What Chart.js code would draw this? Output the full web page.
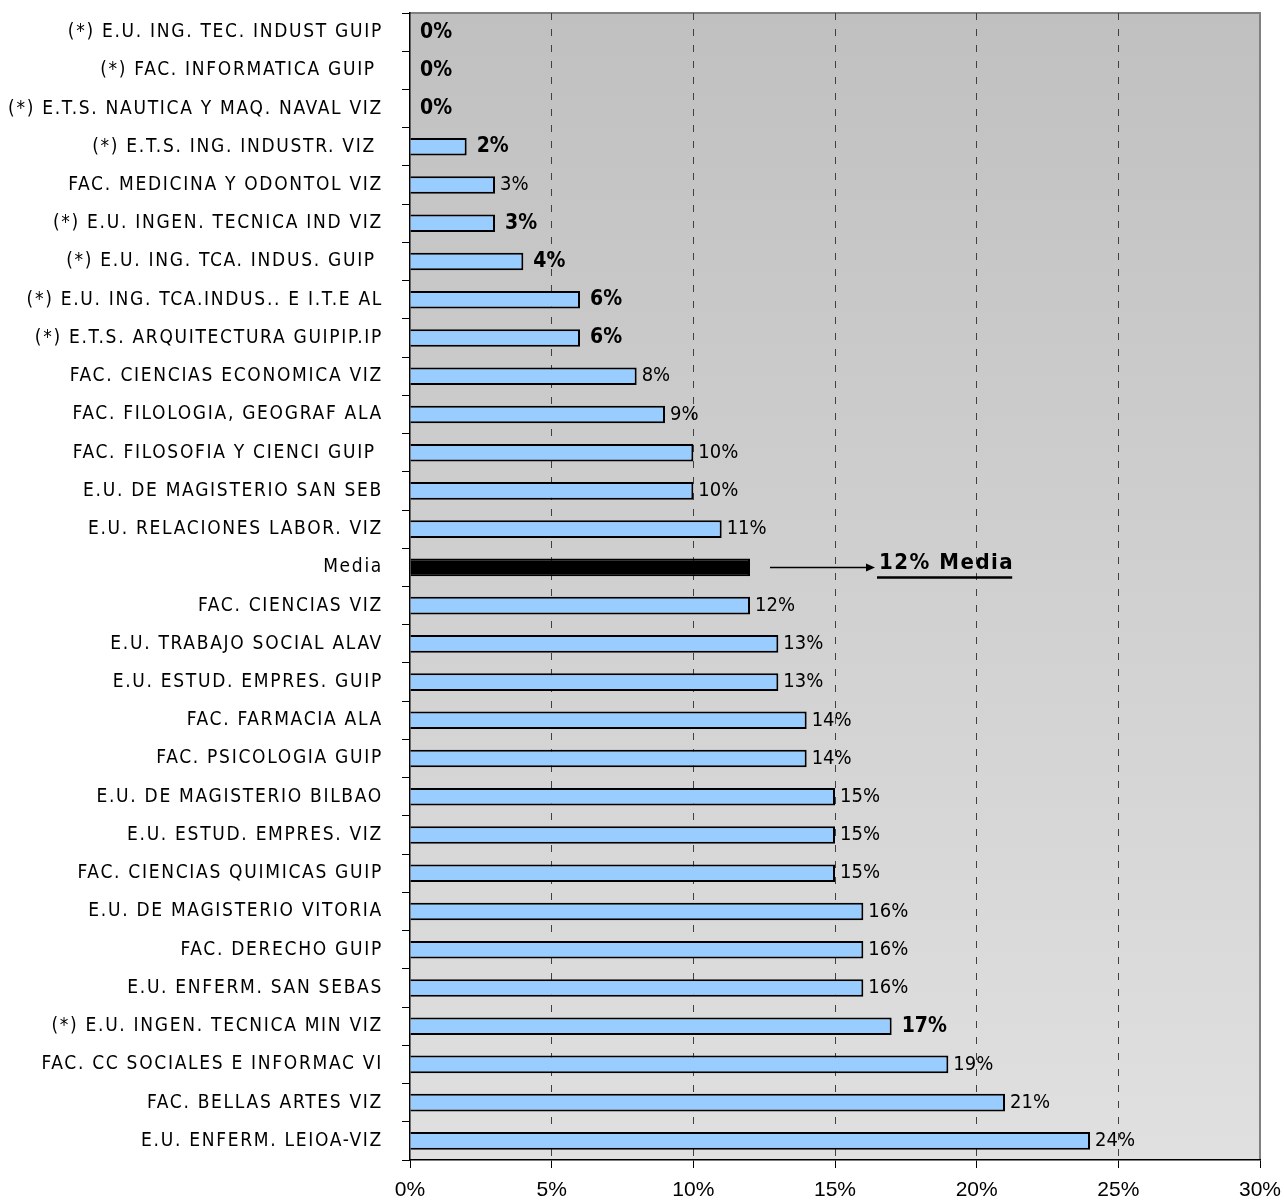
<!DOCTYPE html>
<html>
<head>
<meta charset="utf-8">
<script src="https://cdn.jsdelivr.net/npm/chart.js"></script>
<style>
  html, body { margin: 0; padding: 0; background: #ffffff; }
  #wrap { width: 1284px; height: 1201px; }
</style>
</head>
<body>
<div id="wrap"><canvas id="chart" width="1284" height="1201"></canvas></div>
<script>
// -----------------------------
// Data
// -----------------------------
const categories = [
    "(*) E.U. ING. TEC. INDUST GUIP",
    "(*) FAC. INFORMATICA GUIP ",
    "(*) E.T.S. NAUTICA Y MAQ. NAVAL VIZ",
    "(*) E.T.S. ING. INDUSTR. VIZ ",
    "FAC. MEDICINA Y ODONTOL VIZ",
    "(*) E.U. INGEN. TECNICA IND VIZ",
    "(*) E.U. ING. TCA. INDUS. GUIP ",
    "(*) E.U. ING. TCA.INDUS.. E I.T.E AL",
    "(*) E.T.S. ARQUITECTURA GUIPIP.IP",
    "FAC. CIENCIAS ECONOMICA VIZ",
    "FAC. FILOLOGIA, GEOGRAF ALA",
    "FAC. FILOSOFIA Y CIENCI GUIP ",
    "E.U. DE MAGISTERIO SAN SEB",
    "E.U. RELACIONES LABOR. VIZ",
    "Media",
    "FAC. CIENCIAS VIZ",
    "E.U. TRABAJO SOCIAL ALAV",
    "E.U. ESTUD. EMPRES. GUIP",
    "FAC. FARMACIA ALA",
    "FAC. PSICOLOGIA GUIP",
    "E.U. DE MAGISTERIO BILBAO",
    "E.U. ESTUD. EMPRES. VIZ",
    "FAC. CIENCIAS QUIMICAS GUIP",
    "E.U. DE MAGISTERIO VITORIA",
    "FAC. DERECHO GUIP",
    "E.U. ENFERM. SAN SEBAS",
    "(*) E.U. INGEN. TECNICA MIN VIZ",
    "FAC. CC SOCIALES E INFORMAC VI",
    "FAC. BELLAS ARTES VIZ",
    "E.U. ENFERM. LEIOA-VIZ"
];

const values = [
    0, 0, 0, 2, 3, 3, 4, 6, 6, 8,
    9, 10, 10, 11, 12, 12, 13, 13, 14, 14,
    15, 15, 15, 16, 16, 16, 17, 19, 21, 24
];

const xTicks = [0, 5, 10, 15, 20, 25, 30];

const FONT = "'DejaVu Sans Condensed', 'DejaVu Sans', sans-serif";
const isMedia = (i) => categories[i] === "Media";
const isStar = (i) => categories[i].indexOf("(*)") === 0;

// -----------------------------
// Plot background + frame (and letter spacing for the category labels)
// -----------------------------
const plotBg = {
    id: "plotBg",
    beforeDraw(chart) {
        const { ctx, chartArea: a } = chart;
        const g = ctx.createLinearGradient(0, a.top, 0, a.bottom);
        g.addColorStop(0, "#c0c0c0");
        g.addColorStop(1, "#e0e0e0");
        ctx.save();
        ctx.fillStyle = g;
        ctx.fillRect(a.left, a.top, a.right - a.left, a.bottom - a.top);
        ctx.strokeStyle = "#808080";
        ctx.lineWidth = 2;
        ctx.beginPath();
        ctx.moveTo(a.left, a.top);
        ctx.lineTo(a.right, a.top);
        ctx.lineTo(a.right, a.bottom);
        ctx.stroke();
        ctx.restore();
        ctx.letterSpacing = "1.7px";
    },
    beforeDatasetsDraw(chart) {
        chart.ctx.letterSpacing = "0px";
    }
};

// -----------------------------
// Value labels + Media arrow
// -----------------------------
const valueLabels = {
    id: "valueLabels",
    afterDatasetsDraw(chart) {
        const ctx = chart.ctx;
        const meta = chart.getDatasetMeta(0);
        ctx.save();
        ctx.fillStyle = "#000";
        ctx.textBaseline = "middle";
        ctx.textAlign = "left";
        meta.data.forEach((bar, i) => {
            if (isMedia(i)) return;
            if (isStar(i)) {
                ctx.font = "bold 21px " + FONT;
                ctx.fillText(values[i] + "%", bar.x + 10, bar.y);
            } else {
                ctx.font = "20px " + FONT;
                ctx.fillText(values[i] + "%", bar.x + 5, bar.y);
            }
        });

        const mi = categories.indexOf("Media");
        const mb = meta.data[mi];
        const x0 = mb.x + 20, x1 = mb.x + 125, y = mb.y;
        ctx.strokeStyle = "#000";
        ctx.lineWidth = 1.5;
        ctx.beginPath();
        ctx.moveTo(x0, y);
        ctx.lineTo(x1 - 6, y);
        ctx.stroke();
        ctx.beginPath();
        ctx.moveTo(x1, y);
        ctx.lineTo(x1 - 9, y - 4);
        ctx.lineTo(x1 - 9, y + 4);
        ctx.closePath();
        ctx.fill();

        ctx.font = "bold 22px " + FONT;
        ctx.letterSpacing = "1.5px";
        const txt = values[mi] + "% Media";
        ctx.fillText(txt, x1 + 4, y - 4);
        const w = ctx.measureText(txt).width;
        ctx.lineWidth = 2.5;
        ctx.beginPath();
        ctx.moveTo(x1 + 2, y + 10);
        ctx.lineTo(x1 + 2 + w, y + 10);
        ctx.stroke();
        ctx.restore();
    }
};

new Chart(document.getElementById("chart"), {
    type: "bar",
    data: {
        labels: categories,
        datasets: [{
            data: values,
            backgroundColor: values.map((v, i) => isMedia(i) ? "#000000" : "#99ccff"),
            borderColor: "#000000",
            borderWidth: 2,
            barPercentage: 0.46,
            categoryPercentage: 1
        }]
    },
    options: {
        indexAxis: "y",
        responsive: false,
        animation: false,
        devicePixelRatio: 1,
        layout: { padding: { top: 13, right: 24, left: 0, bottom: 0 } },
        plugins: {
            legend: { display: false },
            tooltip: { enabled: false }
        },
        scales: {
            x: {
                min: 0,
                max: 30,
                afterBuildTicks(scale) {
                    scale.ticks = xTicks.map(v => ({ value: v }));
                },
                afterFit(scale) {
                    scale.height = 41;
                    scale.paddingLeft = 0;
                    scale.paddingRight = 0;
                },
                ticks: {
                    color: "#000",
                    padding: 10,
                    maxRotation: 0,
                    z: 1,
                    font: { family: "'Liberation Sans', Arial, sans-serif", size: 21 },
                    callback: (v) => v + "%"
                },
                grid: {
                    color: (c) => (c.tick && (c.tick.value === 0 || c.tick.value === 30)) ? "rgba(0,0,0,0)" : "#404040",
                    tickColor: "#000",
                    tickLength: 8,
                    borderDash: [7, 9],
                    tickBorderDash: [],
                    lineWidth: 1
                },
                border: { display: true, color: "#000", width: 1.5, dash: [7, 9] }
            },
            y: {
                afterFit(scale) {
                    scale.width = 410;
                    scale.paddingTop = 0;
                    scale.paddingBottom = 0;
                },
                ticks: {
                    color: "#000",
                    padding: 19,
                    autoSkip: false,
                    font: { family: FONT, size: 19 }
                },
                grid: {
                    drawOnChartArea: false,
                    offset: true,
                    tickColor: "#000",
                    tickLength: 8
                },
                border: { display: true, color: "#000", width: 1.5 }
            }
        }
    },
    plugins: [plotBg, valueLabels]
});
</script>
</body>
</html>
